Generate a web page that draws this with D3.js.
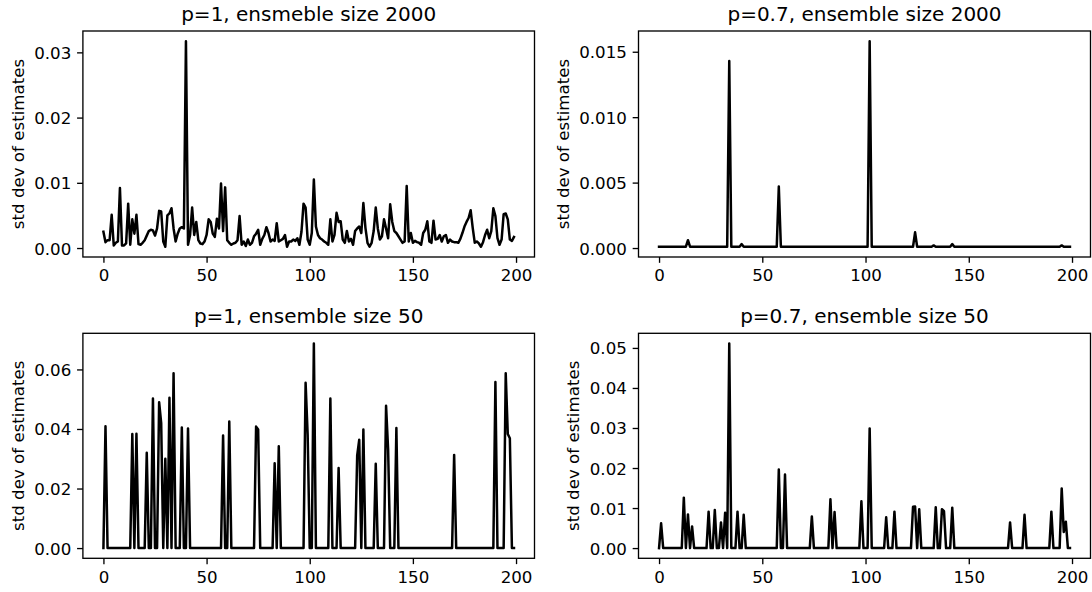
<!DOCTYPE html>
<html>
<head>
<meta charset="utf-8">
<script src="https://cdn.jsdelivr.net/npm/d3@7"></script>
<style>
  body { margin: 0; background: #fff; }
  svg { font-family: "DejaVu Sans", sans-serif; }
</style>
</head>
<body>
<script>
// sample index on the x axis
const idx = d3.range(200);

// p=1, ensemble size 2000
const pOneBig = [
  0.0025, 0.0009, 0.0012, 0.0012, 0.0051, 0.0004, 0.0008, 0.0010, 0.0092, 0.0004, 0.0004, 0.0007, 0.0068, 0.0005, 0.0044, 0.0022, 0.0051, 0.0006, 0.0005, 0.0008,
  0.0012, 0.0019, 0.0026, 0.0028, 0.0027, 0.0019, 0.0030, 0.0057, 0.0056, 0.0010, 0.0002, 0.0050, 0.0053, 0.0061, 0.0030, 0.0010, 0.0022, 0.0030, 0.0032, 0.0030,
  0.0317, 0.0005, 0.0020, 0.0062, 0.0020, 0.0040, 0.0012, 0.0007, 0.0006, 0.0010, 0.0020, 0.0044, 0.0040, 0.0022, 0.0017, 0.0045, 0.0030, 0.0099, 0.0026, 0.0093,
  0.0012, 0.0008, 0.0005, 0.0007, 0.0008, 0.0012, 0.0049, 0.0005, 0.0010, 0.0003, 0.0013, 0.0005, 0.0008, 0.0018, 0.0022, 0.0028, 0.0005, 0.0014, 0.0020, 0.0032,
  0.0023, 0.0010, 0.0013, 0.0011, 0.0038, 0.0010, 0.0012, 0.0014, 0.0020, 0.0002, 0.0010, 0.0010, 0.0013, 0.0011, 0.0015, 0.0005, 0.0025, 0.0068, 0.0062, 0.0013,
  0.0005, 0.0023, 0.0105, 0.0033, 0.0020, 0.0015, 0.0013, 0.0010, 0.0008, 0.0005, 0.0044, 0.0010, 0.0020, 0.0054, 0.0040, 0.0041, 0.0013, 0.0008, 0.0026, 0.0010,
  0.0014, 0.0005, 0.0026, 0.0030, 0.0033, 0.0023, 0.0069, 0.0031, 0.0008, 0.0002, 0.0008, 0.0026, 0.0062, 0.0030, 0.0013, 0.0018, 0.0044, 0.0030, 0.0015, 0.0067,
  0.0040, 0.0026, 0.0023, 0.0018, 0.0013, 0.0008, 0.0010, 0.0095, 0.0010, 0.0023, 0.0008, 0.0011, 0.0009, 0.0008, 0.0005, 0.0023, 0.0028, 0.0041, 0.0010, 0.0008,
  0.0042, 0.0013, 0.0014, 0.0020, 0.0010, 0.0018, 0.0020, 0.0008, 0.0013, 0.0010, 0.0009, 0.0009, 0.0008, 0.0014, 0.0023, 0.0033, 0.0040, 0.0046, 0.0058, 0.0031,
  0.0008, 0.0010, 0.0007, 0.0002, 0.0009, 0.0020, 0.0028, 0.0015, 0.0026, 0.0061, 0.0049, 0.0015, 0.0005, 0.0013, 0.0052, 0.0053, 0.0044, 0.0013, 0.0011, 0.0017
];

// p=0.7, ensemble size 2000
const pSevenBig = [
  0.0001, 0.0001, 0.0001, 0.0001, 0.0001, 0.0001, 0.0001, 0.0001, 0.0001, 0.0001, 0.0001, 0.0001, 0.0001, 0.0001, 0.0006, 0.0001, 0.0001, 0.0001, 0.0001, 0.0001,
  0.0001, 0.0001, 0.0001, 0.0001, 0.0001, 0.0001, 0.0001, 0.0001, 0.0001, 0.0001, 0.0001, 0.0001, 0.0001, 0.0001, 0.0143, 0.0001, 0.0001, 0.0001, 0.0001, 0.0001,
  0.0003, 0.0001, 0.0001, 0.0001, 0.0001, 0.0001, 0.0001, 0.0001, 0.0001, 0.0001, 0.0001, 0.0001, 0.0001, 0.0001, 0.0001, 0.0001, 0.0001, 0.0001, 0.0047, 0.0001,
  0.0001, 0.0001, 0.0001, 0.0001, 0.0001, 0.0001, 0.0001, 0.0001, 0.0001, 0.0001, 0.0001, 0.0001, 0.0001, 0.0001, 0.0001, 0.0001, 0.0001, 0.0001, 0.0001, 0.0001,
  0.0001, 0.0001, 0.0001, 0.0001, 0.0001, 0.0001, 0.0001, 0.0001, 0.0001, 0.0001, 0.0001, 0.0001, 0.0001, 0.0001, 0.0001, 0.0001, 0.0001, 0.0001, 0.0001, 0.0001,
  0.0001, 0.0001, 0.0158, 0.0001, 0.0001, 0.0001, 0.0001, 0.0001, 0.0001, 0.0001, 0.0001, 0.0001, 0.0001, 0.0001, 0.0001, 0.0001, 0.0001, 0.0001, 0.0001, 0.0001,
  0.0001, 0.0001, 0.0001, 0.0001, 0.0012, 0.0001, 0.0001, 0.0001, 0.0001, 0.0001, 0.0001, 0.0001, 0.0001, 0.0002, 0.0001, 0.0001, 0.0001, 0.0001, 0.0001, 0.0001,
  0.0001, 0.0001, 0.0003, 0.0001, 0.0001, 0.0001, 0.0001, 0.0001, 0.0001, 0.0001, 0.0001, 0.0001, 0.0001, 0.0001, 0.0001, 0.0001, 0.0001, 0.0001, 0.0001, 0.0001,
  0.0001, 0.0001, 0.0001, 0.0001, 0.0001, 0.0001, 0.0001, 0.0001, 0.0001, 0.0001, 0.0001, 0.0001, 0.0001, 0.0001, 0.0001, 0.0001, 0.0001, 0.0001, 0.0001, 0.0001,
  0.0001, 0.0001, 0.0001, 0.0001, 0.0001, 0.0001, 0.0001, 0.0001, 0.0001, 0.0001, 0.0001, 0.0001, 0.0001, 0.0001, 0.0001, 0.0002, 0.0001, 0.0001, 0.0001, 0.0001
];

// p=1, ensemble size 50
const pOneSmall = [
  0, 0.0409, 0, 0, 0, 0, 0, 0, 0, 0, 0, 0, 0, 0, 0.0383, 0, 0.0384, 0, 0, 0,
  0, 0.0320, 0, 0, 0.0502, 0, 0, 0.0490, 0.0420, 0, 0.0300, 0, 0.0505, 0, 0.0587, 0, 0, 0, 0.0405, 0,
  0, 0.0402, 0, 0, 0, 0, 0, 0, 0, 0, 0, 0, 0, 0, 0, 0, 0, 0, 0.0378, 0,
  0, 0.0425, 0, 0, 0, 0, 0, 0, 0, 0, 0, 0, 0, 0, 0.0408, 0.0398, 0, 0, 0, 0,
  0, 0, 0, 0.0285, 0, 0.0342, 0, 0, 0, 0, 0, 0, 0, 0, 0, 0, 0, 0, 0.0555, 0.0380,
  0, 0, 0.0687, 0, 0, 0, 0, 0, 0, 0, 0.0502, 0, 0, 0, 0.0269, 0, 0, 0, 0, 0,
  0, 0, 0, 0.0311, 0.0364, 0, 0.0398, 0, 0, 0, 0, 0, 0.0283, 0, 0, 0, 0, 0.0478, 0.0330, 0,
  0, 0, 0.0403, 0, 0, 0, 0, 0, 0, 0, 0, 0, 0, 0, 0, 0, 0, 0, 0, 0,
  0, 0, 0, 0, 0, 0, 0, 0, 0, 0, 0.0313, 0, 0, 0, 0, 0, 0, 0, 0, 0,
  0, 0, 0, 0, 0, 0, 0, 0, 0, 0, 0.0558, 0, 0, 0, 0, 0.0587, 0.0383, 0.0369, 0, 0
];

// p=0.7, ensemble size 50
const pSevenSmall = [
  0, 0.0062, 0, 0, 0, 0, 0, 0, 0, 0, 0, 0, 0.0126, 0, 0.0084, 0, 0.0054, 0, 0, 0,
  0, 0, 0, 0, 0.0091, 0, 0, 0.0095, 0, 0, 0.0064, 0, 0.0088, 0, 0.0511, 0, 0, 0, 0.0091, 0,
  0, 0.0083, 0, 0, 0, 0, 0, 0, 0, 0, 0, 0, 0, 0, 0, 0, 0, 0, 0.0196, 0,
  0, 0.0184, 0, 0, 0, 0, 0, 0, 0, 0, 0, 0, 0, 0, 0.0079, 0, 0, 0, 0, 0,
  0, 0, 0, 0.0122, 0, 0.0090, 0, 0, 0, 0, 0, 0, 0, 0, 0, 0, 0, 0, 0.0117, 0,
  0, 0, 0.0299, 0, 0, 0, 0, 0, 0, 0, 0.0077, 0, 0, 0, 0.0091, 0, 0, 0, 0, 0,
  0, 0, 0, 0.0103, 0.0104, 0, 0.0097, 0, 0, 0, 0, 0, 0, 0, 0.0102, 0, 0, 0.0097, 0.0092, 0,
  0, 0, 0.0101, 0, 0, 0, 0, 0, 0, 0, 0, 0, 0, 0, 0, 0, 0, 0, 0, 0,
  0, 0, 0, 0, 0, 0, 0, 0, 0, 0, 0.0064, 0, 0, 0, 0, 0, 0, 0.0083, 0, 0,
  0, 0, 0, 0, 0, 0, 0, 0, 0, 0, 0.0091, 0, 0, 0, 0, 0.0149, 0.0040, 0.0066, 0, 0
];

const titles = ["p=1, ensmeble size 2000", "p=0.7, ensemble size 2000", "p=1, ensemble size 50", "p=0.7, ensemble size 50"];
const xTicks = [0, 50, 100, 150, 200];
const yTicksAll = [
  [0, 0.01, 0.02, 0.03],
  [0, 0.005, 0.010, 0.015],
  [0, 0.02, 0.04, 0.06],
  [0, 0.01, 0.02, 0.03, 0.04, 0.05]
];
const yFormats = [".2f", ".3f", ".2f", ".2f"];
const yLabel = "std dev of estimates";

// layout (px), matplotlib at ~120 dpi
const width = 1092, height = 592;
const cols = [[82.9, 534.5], [638.5, 1090.5]];
const rows = [[31, 257], [333.3, 558.3]];
const pt = 120 / 72;
const tickLen = 3.5 * pt, tickPad = 3.5 * pt, fontSize = 10 * pt;

const svg = d3.select("body").append("svg")
  .attr("width", width)
  .attr("height", height);

const seriesList = [pOneBig, pSevenBig, pOneSmall, pSevenSmall];

// matplotlib style 5% margins
function padded(ext) {
  const m = (ext[1] - ext[0]) * 0.05;
  return [ext[0] - m, ext[1] + m];
}

seriesList.forEach((values, k) => {
  const [x0, x1] = cols[k % 2];
  const [y0, y1] = rows[Math.floor(k / 2)];

  const x = d3.scaleLinear().domain(padded(d3.extent(idx))).range([x0, x1]);
  const y = d3.scaleLinear().domain(padded(d3.extent(values))).range([y1, y0]);

  const g = svg.append("g");

  const line = d3.line()
    .x((d, i) => x(idx[i]))
    .y(d => y(d));

  g.append("path")
    .datum(values)
    .attr("fill", "none")
    .attr("stroke", "#000")
    .attr("stroke-width", 1.5 * pt)
    .attr("stroke-linejoin", "round")
    .attr("stroke-linecap", "square")
    .attr("d", line);

  // frame
  g.append("rect")
    .attr("x", x0).attr("y", y0)
    .attr("width", x1 - x0).attr("height", y1 - y0)
    .attr("fill", "none")
    .attr("stroke", "#000")
    .attr("stroke-width", 0.8 * pt);

  const xAxis = d3.axisBottom(x).tickValues(xTicks).tickFormat(d3.format("d"))
    .tickSize(tickLen).tickPadding(tickPad);
  const yAxis = d3.axisLeft(y).tickValues(yTicksAll[k]).tickFormat(d3.format(yFormats[k]))
    .tickSize(tickLen).tickPadding(tickPad);

  const xg = g.append("g").attr("transform", `translate(0,${y1})`).call(xAxis);
  const yg = g.append("g").attr("transform", `translate(${x0},0)`).call(yAxis);

  [xg, yg].forEach(a => {
    a.attr("font-family", null).attr("font-size", null);
    a.select(".domain").remove();
    a.selectAll(".tick line").attr("stroke", "#000").attr("stroke-width", 0.8 * pt);
    a.selectAll(".tick text").attr("fill", "#000").style("font-size", fontSize + "px");
  });
  xg.selectAll(".tick text").attr("dy", "0.76em");
  yg.selectAll(".tick text").attr("dy", "0.36em");

  // title
  g.append("text")
    .attr("x", (x0 + x1) / 2)
    .attr("y", y0 - 6 * pt)
    .attr("text-anchor", "middle")
    .style("font-size", (12 * pt) + "px")
    .text(titles[k]);

  // y label placed left of the tick labels
  const labLeft = d3.min(yg.selectAll(".tick text").nodes(), n => n.getBBox().x) + x0;
  const lx = labLeft - 4 * pt - 0.236 * fontSize;
  g.append("text")
    .attr("transform", `translate(${lx},${(y0 + y1) / 2}) rotate(-90)`)
    .attr("text-anchor", "middle")
    .style("font-size", fontSize + "px")
    .text(yLabel);
});
</script>
</body>
</html>
